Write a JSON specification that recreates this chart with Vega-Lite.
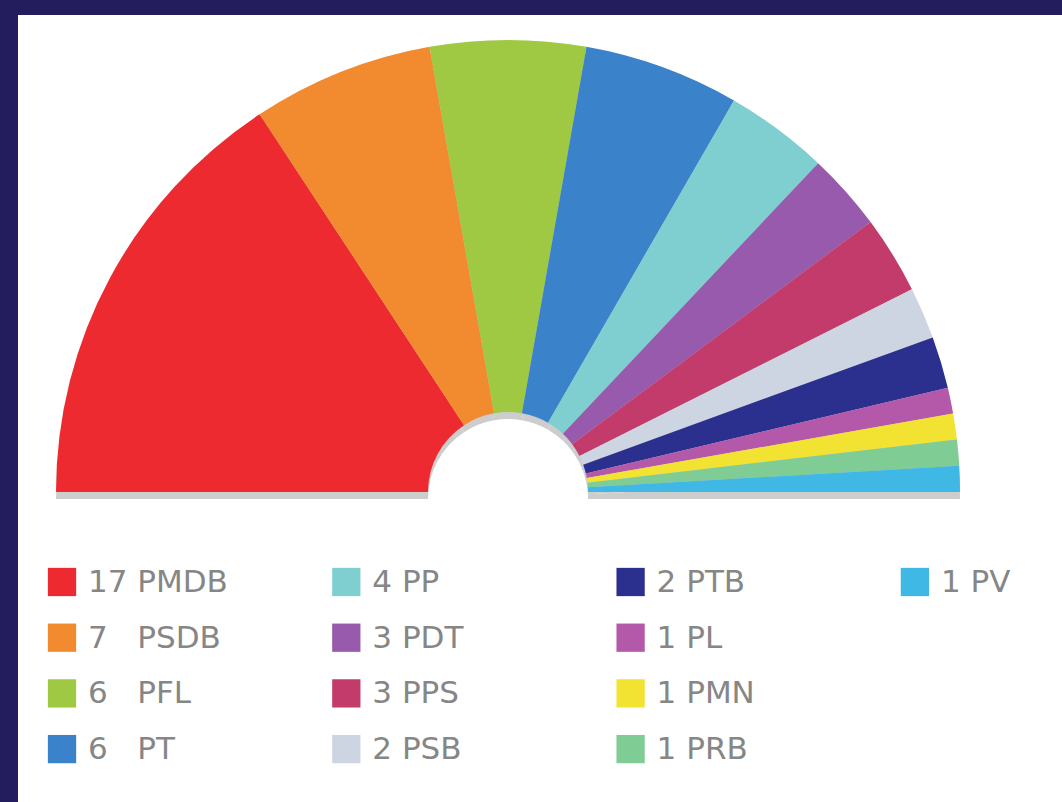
{
  "$schema": "https://vega.github.io/schema/vega-lite/v6.json",
  "width": 1044,
  "height": 787,
  "autosize": {"type": "none"},
  "padding": {"left": 18, "top": 15, "right": 0, "bottom": 0},
  "background": "#231d5e",
  "config": {"view": {"fill": "white", "stroke": null}},
  "data": {
    "values": [
      {"party": "PMDB", "seats": 17},
      {"party": "PSDB", "seats": 7},
      {"party": "PFL", "seats": 6},
      {"party": "PT", "seats": 6},
      {"party": "PP", "seats": 4},
      {"party": "PDT", "seats": 3},
      {"party": "PPS", "seats": 3},
      {"party": "PSB", "seats": 2},
      {"party": "PTB", "seats": 2},
      {"party": "PL", "seats": 1},
      {"party": "PMN", "seats": 1},
      {"party": "PRB", "seats": 1},
      {"party": "PV", "seats": 1}
    ]
  },
  "transform": [
    {"window": [{"op": "row_number", "as": "rn"}]},
    {"calculate": "floor((datum.rn - 1) / 4)", "as": "col"},
    {"calculate": "(datum.rn - 1) % 4", "as": "row"},
    {"calculate": "datum.seats + (datum.rn <= 4 && datum.seats < 10 ? '\u00a0\u00a0\u00a0' : '\u00a0') + datum.party", "as": "label"}
  ],
  "layer": [
    {
      "mark": {"type": "arc", "radius": 452, "radius2": 80, "color": "#cdcdcd", "yOffset": 7},
      "encoding": {
        "theta": {"field": "seats", "type": "quantitative", "stack": true, "scale": {"range": [-1.5708, 1.5708]}},
        "order": {"field": "rn", "type": "quantitative"},
        "x": {"datum": 1.5688, "type": "quantitative", "scale": {"domain": [-0.1548, 3.5174], "nice": false, "zero": false}, "axis": null},
        "y": {"datum": -1.616, "type": "quantitative", "scale": {"domain": [-10.18, 3.95], "nice": false, "zero": false, "reverse": true}, "axis": null}
      }
    },
    {
      "mark": {"type": "arc", "radius": 452, "radius2": 80},
      "encoding": {
        "theta": {"field": "seats", "type": "quantitative", "stack": true},
        "order": {"field": "rn", "type": "quantitative"},
        "x": {"datum": 1.5688, "type": "quantitative", "axis": null},
        "y": {"datum": -1.616, "type": "quantitative", "axis": null},
        "color": {
          "field": "party",
          "type": "nominal",
          "legend": null,
          "scale": {
            "domain": ["PMDB", "PSDB", "PFL", "PT", "PP", "PDT", "PPS", "PSB", "PTB", "PL", "PMN", "PRB", "PV"],
            "range": ["#ed2a2f", "#f28a30", "#9fc843", "#3a83cb", "#7fcfd0", "#985aad", "#c33b6b", "#cdd5e3", "#2b2f8e", "#b459a9", "#f2e231", "#7fcc95", "#3fb8e6"]
          }
        }
      }
    },
    {
      "mark": {"type": "square", "size": 800, "filled": true, "opacity": 1},
      "encoding": {
        "x": {"field": "col", "type": "quantitative", "axis": null},
        "y": {"field": "row", "type": "quantitative", "axis": null},
        "color": {"field": "party", "type": "nominal", "legend": null}
      }
    },
    {
      "mark": {"type": "text", "align": "left", "baseline": "middle", "dx": 26, "dy": 1, "font": "DejaVu Sans", "fontSize": 31, "color": "#868686"},
      "encoding": {
        "x": {"field": "col", "type": "quantitative", "axis": null},
        "y": {"field": "row", "type": "quantitative", "axis": null},
        "text": {"field": "label"}
      }
    }
  ]
}
